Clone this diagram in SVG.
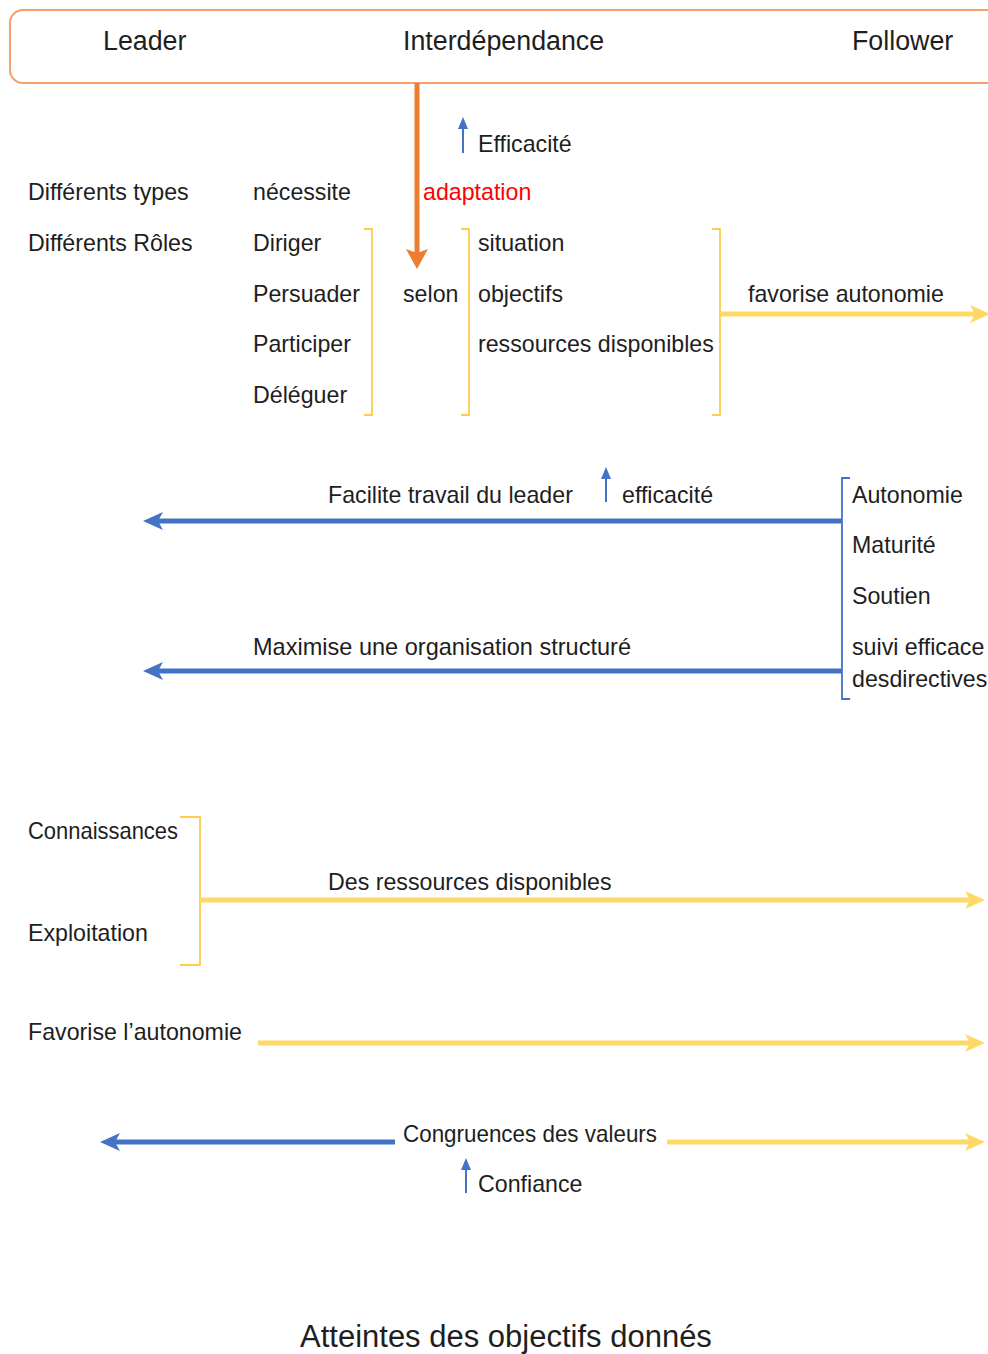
<svg xmlns="http://www.w3.org/2000/svg" width="988" height="1354" viewBox="0 0 988 1354">
<style>
text{font-family:"Liberation Sans",Arial,sans-serif;font-size:23.2px;fill:#1e1e1e}
.hd{font-size:26.8px}
.ttl{font-size:31px}
.red{fill:#ff0000}
.bry{fill:none;stroke:#ffcc4d;stroke-width:1.8}
.brb{fill:none;stroke:#4472c4;stroke-width:1.8}
.lb{stroke:#4472c4;stroke-width:5;fill:none}
.ly{stroke:#ffd966;stroke-width:5;fill:none}
.lo{stroke:#ed7d31;stroke-width:5;fill:none}
.thin{stroke:#4472c4;stroke-width:2;fill:none}
</style>
<defs>
<marker id="hb" markerUnits="userSpaceOnUse" markerWidth="22" markerHeight="20" viewBox="0 0 22 20" refX="10" refY="10" orient="auto"><path d="M0,1 L20,10 L0,19 L5,10 z" fill="#4472c4"/></marker>
<marker id="hy" markerUnits="userSpaceOnUse" markerWidth="22" markerHeight="20" viewBox="0 0 22 20" refX="10" refY="10" orient="auto"><path d="M0,1 L20,10 L0,19 L5,10 z" fill="#ffd966"/></marker>
<marker id="ho" markerUnits="userSpaceOnUse" markerWidth="22" markerHeight="22" viewBox="0 0 22 22" refX="10" refY="11" orient="auto"><path d="M0,0 L20,11 L0,22 L4,11 z" fill="#ed7d31"/></marker>
<marker id="hs" markerUnits="userSpaceOnUse" markerWidth="12" markerHeight="10" viewBox="0 0 12 10" refX="4" refY="5" orient="auto"><path d="M0,0 L12,5 L0,10 z" fill="#4472c4"/></marker>
</defs>
<rect width="988" height="1354" fill="#ffffff"/>

<g id="header">
<rect x="10" y="10" width="1000" height="73" rx="13" ry="13" fill="#ffffff" stroke="#f4a06a" stroke-width="2"/>
<text class="hd" x="103" y="50">Leader</text>
<text class="hd" x="403" y="50">Interdépendance</text>
<text class="hd" x="852" y="50">Follower</text>
</g>

<g id="row-types">
<text x="28" y="200">Différents types</text>
<text x="253" y="200">nécessite</text>
<text class="red" x="423" y="200">adaptation</text>
</g>
<g id="efficacite-top"><text x="478" y="152">Efficacité</text></g>
<g id="roles"><text x="28" y="251">Différents Rôles</text></g>
<g id="styles">
<text x="253" y="251">Diriger</text>
<text x="253" y="302">Persuader</text>
<text x="253" y="352">Participer</text>
<text x="253" y="403">Déléguer</text>
<path class="bry" d="M364,229 H372 V415 H364"/>
</g>
<g id="selon"><text x="403" y="302">selon</text></g>
<g id="criteres">
<path class="bry" d="M461,229 H469 V415 H461"/>
<text x="478" y="251">situation</text>
<text x="478" y="302">objectifs</text>
<text x="478" y="352">ressources disponibles</text>
<path class="bry" d="M712,229 H720 V415 H712"/>
</g>
<g id="favorise-autonomie"><text x="748" y="302">favorise autonomie</text></g>

<g id="follower-traits">
<path class="brb" d="M850,478 H842 V699 H850"/>
<text x="852" y="503">Autonomie</text>
<text x="852" y="553">Maturité</text>
<text x="852" y="604">Soutien</text>
<text x="852" y="655">suivi efficace</text>
<text x="852" y="687">desdirectives</text>
</g>
<g id="facilite"><text x="328" y="503">Facilite travail du leader</text><text x="622" y="503">efficacité</text></g>
<g id="maximise"><text x="253" y="655" textLength="378" lengthAdjust="spacingAndGlyphs">Maximise une organisation structuré</text></g>

<g id="ressources">
<text x="28" y="839" textLength="150" lengthAdjust="spacingAndGlyphs">Connaissances</text>
<text x="28" y="941">Exploitation</text>
<path class="bry" d="M180,817 H200 V965 H180"/>
<text x="328" y="890">Des ressources disponibles</text>
</g>
<g id="favorise-l-autonomie"><text x="28" y="1040">Favorise l’autonomie</text></g>
<g id="congruences"><text x="403" y="1142" textLength="254" lengthAdjust="spacingAndGlyphs">Congruences des valeurs</text></g>
<g id="confiance"><text x="478" y="1192">Confiance</text></g>
<g id="atteintes"><text class="ttl" x="300" y="1347">Atteintes des objectifs donnés</text></g>

<g id="connectors">
<line class="lo" x1="417" y1="83" x2="417" y2="259" marker-end="url(#ho)"/>
<line class="thin" x1="463" y1="153" x2="463" y2="125" marker-end="url(#hs)"/>
<line class="ly" x1="720" y1="314" x2="980" y2="314" marker-end="url(#hy)"/>
<line class="lb" x1="842" y1="521" x2="153" y2="521" marker-end="url(#hb)"/>
<line class="thin" x1="606" y1="502" x2="606" y2="475" marker-end="url(#hs)"/>
<line class="lb" x1="842" y1="671" x2="153" y2="671" marker-end="url(#hb)"/>
<line class="ly" x1="200" y1="900" x2="975" y2="900" marker-end="url(#hy)"/>
<line class="ly" x1="258" y1="1043" x2="975" y2="1043" marker-end="url(#hy)"/>
<line class="lb" x1="395" y1="1142" x2="110" y2="1142" marker-end="url(#hb)"/>
<line class="ly" x1="667" y1="1142" x2="975" y2="1142" marker-end="url(#hy)"/>
<line class="thin" x1="466" y1="1193" x2="466" y2="1166" marker-end="url(#hs)"/>
</g>
</svg>
